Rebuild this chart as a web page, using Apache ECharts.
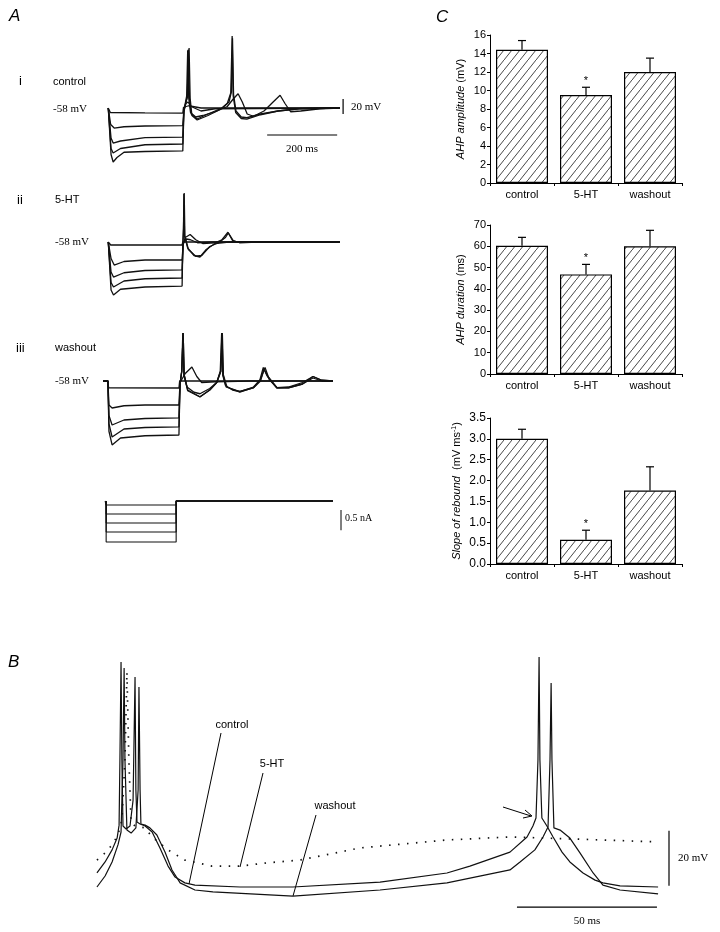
<!DOCTYPE html>
<html><head><meta charset="utf-8">
<script src="https://cdn.jsdelivr.net/npm/echarts@6/dist/echarts.min.js"></script>
<style>html,body{margin:0;padding:0;background:#fff}#c{width:720px;height:932px}</style>
</head><body><div id="c"></div>
<script>
// ---------- Panel C data ----------
const categories = ['control', '5-HT', 'washout'];
const ahpAmplitude = [14.4, 9.5, 12.0];
const ahpAmplitudeSem = [1.0, 0.85, 1.5];
const ahpDuration = [60.2, 46.8, 60.0];
const ahpDurationSem = [4.0, 4.7, 7.5];
const reboundSlope = [3.0, 0.58, 1.76];
const reboundSlopeSem = [0.23, 0.23, 0.57];
const significant = [false, true, false];

// ---------- Panel A traces [ms, mV] ----------
const aCtrl1 = [[-5,-58],[0,-58],[1,-64],[100,-64.5],[208,-64.7],[210,-57],[225,-55],[260,-58],[657,-58]];
const aCtrl2 = [[-5,-58],[0,-58],[2,-80],[12,-84.7],[40,-83],[100,-82],[208,-81.5],[211,-60],[217,-52],[223,-50],[232,-56],[260,-62],[300,-59],[657,-58]];
const aCtrl3 = [[-5,-58],[0,-58],[3,-98],[9,-104.7],[30,-102],[100,-97.5],[208,-96.7],[211,-62],[215,-52],[219,-42],[222,19],[225,-45],[230,-64],[245,-70],[265,-68],[300,-63],[335,-56],[352,-46],[366,-39],[378,-50],[392,-66],[410,-69],[440,-62],[466,-50],[486,-41],[500,-52],[516,-63],[545,-62],[600,-59],[657,-58]];
const aCtrl4 = [[-5,-58],[0,-58],[3,-112],[9,-118],[30,-112],[100,-107],[208,-106],[211,-62],[216,-52],[221,-42],[224,20],[227,-45],[232,-66],[249,-72.7],[280,-66],[320,-58],[340,-50],[347,-36],[350,35],[353,-40],[360,-62],[375,-70],[391,-71],[430,-66],[480,-62],[540,-59],[657,-58]];
const aCtrl5 = [[-5,-58],[0,-58],[3,-120],[9,-130],[20,-124],[40,-117],[100,-116],[208,-115.3],[211,-64],[216,-52],[222,-42],[226,22],[229,-45],[234,-68],[249,-74],[280,-68],[315,-60],[335,-52],[345,-38],[349,38],[352,-42],[359,-64],[375,-72],[391,-72.7],[430,-67],[480,-62],[540,-59],[657,-58]];

const a5ht1 = [[-5,-58],[0,-58],[2,-62],[206,-62],[208,-58],[657,-58]];
const a5ht2 = [[-5,-58],[0,-58],[3,-80],[12,-88.7],[40,-84],[100,-82],[206,-82],[209,-60],[218,-54],[230,-55],[250,-59],[290,-58],[657,-58]];
const a5ht3 = [[-5,-58],[0,-58],[3,-98],[10,-104.7],[40,-99],[100,-96],[206,-95.3],[209,-62],[215,-52],[229,-48],[245,-55],[265,-60],[300,-59],[320,-55],[337,-45],[352,-56],[370,-59],[420,-58],[657,-58]];
const a5ht4 = [[-5,-58],[0,-58],[3,-112],[10,-118],[40,-110],[100,-107],[206,-106],[208,-62],[210,-40],[211,6],[213,-50],[222,-66],[240,-76],[257,-78],[275,-68],[300,-60],[340,-58],[657,-58]];
const a5ht5 = [[-5,-58],[0,-58],[3,-122],[10,-128.7],[30,-121],[100,-118],[206,-116.7],[208,-64],[210,-40],[212,7.3],[214,-50],[224,-68],[245,-77],[262,-76],[285,-64],[310,-59],[330,-52],[338,-46],[350,-56],[365,-58],[657,-58]];

const aWash1 = [[-20,-58],[-6,-58],[-4,-67],[197,-67.3],[199,-58],[637,-58]];
const aWash2 = [[-20,-58],[-6,-58],[-3,-90],[6,-94],[40,-91],[100,-90],[197,-90],[200,-60],[215,-48],[234,-39.3],[248,-52],[262,-60],[300,-59],[400,-58],[637,-58]];
const aWash3 = [[-20,-58],[-6,-58],[-3,-104],[6,-116.7],[40,-110],[100,-108],[197,-107.3],[200,-62],[205,-45],[208,6],[211,-50],[220,-66],[240,-73],[257,-75],[285,-68],[305,-60],[315,-45],[319,6],[322,-50],[330,-64],[350,-70],[371,-72],[410,-66],[430,-56],[443,-40],[455,-56],[477,-67],[510,-66],[550,-60],[580,-52],[605,-57],[637,-58]];
const aWash4 = [[-20,-58],[-6,-58],[-3,-115],[6,-132.7],[40,-122],[100,-120],[197,-119.3],[200,-62],[205,-45],[209,6],[212,-50],[222,-70],[257,-79],[285,-70],[305,-60],[316,-45],[320,6],[323,-50],[332,-66],[371,-72.7],[410,-67],[430,-58],[440,-42],[450,-52],[477,-67.3],[510,-67],[550,-62],[580,-54],[605,-58],[637,-58]];
const aWash5 = [[-20,-58],[-6,-58],[-3,-125],[6,-143.3],[30,-134],[100,-131],[197,-130],[200,-62],[205,-45],[209,6],[212,-50],[222,-71],[257,-79.3],[285,-70],[305,-60],[317,-45],[321,6],[324,-50],[334,-66],[371,-72],[410,-67],[428,-57],[438,-40],[448,-50],[477,-67],[510,-67],[550,-62],[580,-52],[605,-57],[637,-58]];

// current steps (nA) and timing (ms)
const currentLevels = [-0.09, -0.29, -0.49, -0.69, -0.91];
const currentStepOn = -11, currentStepOff = 189, currentEnd = 637;

// ---------- Panel B traces [ms, mV] ----------
const bControl = [[0.7,-54.9],[3.6,-50.9],[6.1,-46.5],[7.9,-42.2],[8.6,-37.5],[8.9,-13.8],[9.3,21.8],[9.6,-13.8],[10,-37.8],[11.1,-38.9],[12.5,-37.8],[13.6,-28.4],[14.3,16.4],[14.6,-24.7],[15,-36.4],[16.1,-37.1],[17.9,-37.8],[20.4,-40],[23.2,-45.8],[26.1,-52.4],[28.6,-56.4],[32.1,-58.5],[35.7,-59.3],[51.8,-60],[70.7,-60],[101.8,-58.2],[125.7,-54.9],[133.9,-52.4],[148.2,-47.3],[154.3,-41.8],[156.4,-37.8],[157.5,-34.9],[158.2,-13.8],[158.6,23.6],[158.9,-13.8],[159.6,-34.9],[161.4,-37.8],[163.6,-41.8],[166.8,-47.3],[169.6,-50.9],[174.3,-54.9],[178.6,-57.5],[181.4,-58.5],[187.5,-59.6],[201.1,-60]];
const bWashout = [[0.7,-60],[3.6,-56],[6.1,-50.9],[8.2,-44.7],[9.3,-40],[10,-13.8],[10.4,19.6],[10.7,-13.8],[11.4,-39.3],[12.9,-40.4],[14.6,-38.5],[15.4,-24.7],[15.7,12.7],[16.1,-24.7],[16.4,-37.1],[17.9,-37.5],[19.6,-38.5],[22.1,-41.1],[25,-47.3],[27.5,-53.8],[30.4,-58.5],[35.7,-61.1],[42.1,-61.8],[70.7,-63.3],[101.8,-61.1],[125.7,-58.5],[148.2,-53.8],[151.8,-50.9],[157.1,-46.5],[160,-41.8],[161.8,-38.2],[162.5,-13.8],[162.9,14.2],[163.2,-13.8],[163.9,-38.5],[166.1,-39.3],[169.6,-42.2],[173.2,-47.6],[177.9,-54.9],[181.4,-59.3],[187.5,-61.1],[201.1,-62.5]];
const b5ht = [[0.7,-50.2],[3.6,-47.6],[6.1,-44.7],[8.2,-41.1],[9.6,-35.6],[10.7,-13.8],[11.4,18.2],[12.1,-13.8],[12.9,-36.7],[14.3,-37.8],[17.9,-38.5],[20.4,-41.8],[26.1,-46.5],[32.1,-50.2],[41.8,-52.4],[51.8,-52.4],[60.7,-51.3],[73.2,-50.2],[94.6,-45.8],[125.7,-42.9],[148.2,-41.8],[169.6,-42.5],[200.7,-43.6]];

// scale bar sizes
const scaleA_ms = 200, scaleA_mV = 20, scaleI_nA = 0.5, scaleB_ms = 50, scaleB_mV = 20;

// ---------- build ----------
const SANS = 'Liberation Sans, Arial, sans-serif';
const SERIF = 'Liberation Serif, Times New Roman, serif';
const chart = echarts.init(document.getElementById('c'), null, {renderer: 'canvas'});

function hatchCanvas() {
  const w = 8, h = 10;
  const c = document.createElement('canvas'); c.width = w; c.height = h;
  const g = c.getContext('2d');
  g.fillStyle = '#fff'; g.fillRect(0, 0, w, h);
  g.strokeStyle = '#333'; g.lineWidth = 0.9;
  g.beginPath(); g.moveTo(-w, 2 * h); g.lineTo(2 * w, -h); g.stroke();
  return c;
}
const hatch = {image: hatchCanvas(), repeat: 'repeat'};

const grids = [], xAxes = [], yAxes = [], series = [];
function addGrid(g, x, y) { grids.push(g); xAxes.push(Object.assign({gridIndex: grids.length - 1}, x)); yAxes.push(Object.assign({gridIndex: grids.length - 1}, y)); return grids.length - 1; }
function trace(gi, data, extra) {
  series.push(Object.assign({type: 'line', xAxisIndex: gi, yAxisIndex: gi, data: data, symbol: 'none', showSymbol: false,
    clip: false, silent: true, lineStyle: {color: '#111', width: 1.3}}, extra || {}));
}
function bar(gi, x0, x1, y0, y1, w) {
  trace(gi, [[x0, y0], [x1, y1]], {lineStyle: {color: '#000', width: w || 1.2}});
}

// Panel A grids (0.35 px/ms, 0.75 px/mV)
const aX = {type: 'value', min: -20, max: 680, show: false};
const aY = {type: 'value', min: -150, max: 45, show: false};
const gA1 = addGrid({left: 103, top: 30.75, width: 245, height: 146.25}, aX, aY);
const gA2 = addGrid({left: 103, top: 164.75, width: 245, height: 146.25}, aX, aY);
const gA3 = addGrid({left: 103, top: 303.75, width: 245, height: 146.25}, aX, aY);
const gI = addGrid({left: 103, top: 487.5, width: 245, height: 67.5}, aX, {type: 'value', min: -1.2, max: 0.3, show: false});
[aCtrl1, aCtrl2, aCtrl3, aCtrl4, aCtrl5].forEach(d => trace(gA1, d));
[a5ht1, a5ht2, a5ht3, a5ht4, a5ht5].forEach(d => trace(gA2, d));
[aWash1, aWash2, aWash3, aWash4, aWash5].forEach(d => trace(gA3, d));
currentLevels.forEach((L, i) => trace(gI, [[currentStepOn - (i === 0 ? 3 : 0), 0], [currentStepOn, 0], [currentStepOn, L], [currentStepOff, L], [currentStepOff, 0], [currentEnd, 0]], {lineStyle: {color: '#111', width: 1.1}}));
// scale bars A
bar(gA1, 449, 449 + scaleA_ms, -94, -94);
bar(gA1, 666, 666, -46, -46 - scaleA_mV);
bar(gI, 660, 660, -0.2, -0.2 - scaleI_nA * 0.9, 1);

// Panel B grid (2.8 px/ms, 2.75 px/mV)
const gB = addGrid({left: 95, top: 639.5, width: 588, height: 275},
  {type: 'value', min: 0, max: 210, show: false}, {type: 'value', min: -70, max: 30, show: false});
trace(gB, bControl, {lineStyle: {color: '#111', width: 1.2}});
trace(gB, bWashout, {lineStyle: {color: '#111', width: 1.2}});
trace(gB, b5ht, {lineStyle: {color: '#111', width: 1.7, type: [1.5, 7.5]}});
bar(gB, 150.7, 150.7 + scaleB_ms, -67.3, -67.3);
bar(gB, 205, 205, -59.5, -59.5 + scaleB_mV);

// Panel C bar charts
function cAxisX() {
  return {type: 'category', data: categories, boundaryGap: true,
    axisLine: {lineStyle: {color: '#000', width: 1}},
    axisTick: {show: true, length: 3, lineStyle: {color: '#000'}},
    axisLabel: {color: '#000', fontFamily: SANS, fontSize: 11, margin: 6}};
}
function cAxisY(max, interval, name, gap, fmt, fs) {
  return {type: 'value', min: 0, max: max, interval: interval,
    splitLine: {show: false},
    axisLine: {show: true, lineStyle: {color: '#000', width: 1}},
    axisTick: {show: true, length: 3, lineStyle: {color: '#000'}},
    axisLabel: {color: '#000', fontFamily: SANS, fontSize: fs || 11, margin: 4, formatter: fmt},
    name: name, nameLocation: 'middle', nameGap: gap,
    nameTextStyle: {color: '#000', fontFamily: SANS, fontSize: 11,
      rich: {i: {fontStyle: 'italic', fontFamily: SANS, fontSize: 11, color: '#000'},
             n: {fontFamily: SANS, fontSize: 11, color: '#000'},
             s: {fontFamily: SANS, fontSize: 7, color: '#000', verticalAlign: 'top', lineHeight: 10}}}};
}
function cBars(gi, means, sems) {
  series.push({type: 'bar', xAxisIndex: gi, yAxisIndex: gi, data: means, barWidth: 52, silent: true,
    itemStyle: {color: hatch, borderColor: '#000', borderWidth: 1.2}});
  series.push({type: 'custom', xAxisIndex: gi, yAxisIndex: gi, z: 5, silent: true,
    data: means.map((m, i) => [i, m, m + sems[i], significant[i] ? 1 : 0]),
    encode: {x: 0, y: [1, 2]},
    renderItem: function (p, api) {
      const x = api.value(0);
      const lo = api.coord([x, api.value(1)]), hi = api.coord([x, api.value(2)]);
      const ch = [
        {type: 'line', shape: {x1: lo[0], y1: lo[1], x2: hi[0], y2: hi[1]}, style: {stroke: '#000', lineWidth: 1.2}},
        {type: 'line', shape: {x1: hi[0] - 4, y1: hi[1], x2: hi[0] + 4, y2: hi[1]}, style: {stroke: '#000', lineWidth: 1.2}}];
      if (api.value(3)) ch.push({type: 'text', x: hi[0], y: hi[1] - 1,
        style: {text: '*', fontSize: 11, fontFamily: SANS, align: 'center', verticalAlign: 'bottom', fill: '#000'}});
      return {type: 'group', children: ch};
    }});
}
const gC1 = addGrid({left: 490, top: 35, width: 192, height: 148}, cAxisX(),
  cAxisY(16, 2, '{i|AHP amplitude} {n|(mV)}', 24));
const gC2 = addGrid({left: 490, top: 225, width: 192, height: 149}, cAxisX(),
  cAxisY(70, 10, '{i|AHP duration} {n|(ms)}', 24));
const gC3 = addGrid({left: 490, top: 418, width: 192, height: 146}, cAxisX(),
  cAxisY(3.5, 0.5, '{i|Slope of rebound}  {n|(mV ms}{s|-1}{n|)}', 28, v => v.toFixed(1), 12));
cBars(gC1, ahpAmplitude, ahpAmplitudeSem);
cBars(gC2, ahpDuration, ahpDurationSem);
cBars(gC3, reboundSlope, reboundSlopeSem);

// annotations
function txt(x, y, s, o) {
  return Object.assign({type: 'text', x: x, y: y, silent: true,
    style: Object.assign({text: s, fill: '#000', fontFamily: SANS, fontSize: 11, verticalAlign: 'middle', align: 'left'}, o || {})});
}
function ln(x1, y1, x2, y2, w) {
  return {type: 'line', silent: true, shape: {x1: x1, y1: y1, x2: x2, y2: y2}, style: {stroke: '#000', lineWidth: w || 1}};
}
const graphic = [
  txt(9, 16, 'A', {fontSize: 17, fontStyle: 'italic'}),
  txt(8, 662, 'B', {fontSize: 17, fontStyle: 'italic'}),
  txt(436, 17, 'C', {fontSize: 17, fontStyle: 'italic'}),
  txt(19, 81, 'i', {fontSize: 13}),
  txt(17, 200, 'ii', {fontSize: 13}),
  txt(16, 348, 'iii', {fontSize: 13}),
  txt(53, 82, 'control'),
  txt(55, 200, '5-HT'),
  txt(55, 348, 'washout'),
  txt(53, 109, '-58 mV', {fontFamily: SERIF}),
  txt(55, 242, '-58 mV', {fontFamily: SERIF}),
  txt(55, 381, '-58 mV', {fontFamily: SERIF}),
  txt(351, 107, '20 mV', {fontFamily: SERIF}),
  txt(302, 149, '200 ms', {fontFamily: SERIF, align: 'center'}),
  txt(345, 518, '0.5 nA', {fontFamily: SERIF, fontSize: 10}),
  txt(232, 725, 'control', {align: 'center'}),
  txt(272, 764, '5-HT', {align: 'center'}),
  txt(335, 806, 'washout', {align: 'center'}),
  txt(678, 858, '20 mV', {fontFamily: SERIF}),
  txt(587, 921, '50 ms', {fontFamily: SERIF, align: 'center'}),
  ln(221, 733, 189, 884),
  ln(263, 773, 240, 867),
  ln(316, 815, 293, 896),
  ln(503, 807, 531, 816),
  {type: 'polyline', silent: true, shape: {points: [[525, 810], [532, 816], [523, 818]]}, style: {stroke: '#000', fill: null, lineWidth: 1}}
];

chart.setOption({
  animation: false,
  backgroundColor: '#fff',
  grid: grids, xAxis: xAxes, yAxis: yAxes, series: series, graphic: graphic
});
</script></body></html>
